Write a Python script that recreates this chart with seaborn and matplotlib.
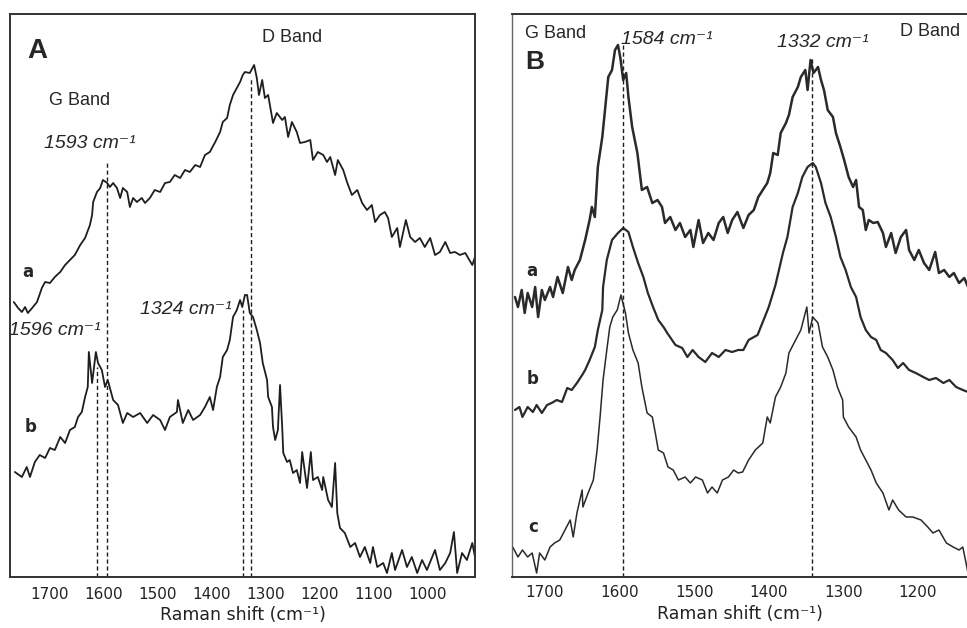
import matplotlib
matplotlib.use("Agg")
import matplotlib.pyplot as plt
import seaborn as sns
import pandas as pd
from matplotlib.ticker import MultipleLocator

# ---- panel A : Raman shift (cm-1) and intensity (a.u.) ----
a_top_x = [1767, 1759, 1752, 1746, 1741, 1733, 1724, 1715, 1709, 1700, 1691, 1681, 1672, 1663,
           1654, 1644, 1635, 1626, 1622, 1620, 1613, 1607, 1602, 1594, 1589, 1583, 1576, 1570,
           1565, 1557, 1552, 1546, 1539, 1530, 1524, 1515, 1506, 1496, 1487, 1478, 1469, 1459,
           1450, 1441, 1431, 1422, 1413, 1404, 1394, 1385, 1380, 1372, 1367, 1361, 1354, 1348,
           1343, 1339, 1330, 1322, 1317, 1313, 1307, 1302, 1296, 1287, 1280, 1270, 1265, 1259,
           1252, 1243, 1237, 1228, 1218, 1213, 1204, 1194, 1187, 1181, 1172, 1167, 1157, 1150,
           1141, 1131, 1122, 1113, 1104, 1098, 1089, 1080, 1074, 1067, 1057, 1052, 1041, 1033,
           1024, 1015, 1006, 996, 987, 978, 968, 959, 950, 941, 931, 918, 913]
a_top_y = [275, 269, 265, 270, 264, 269, 275, 289, 295, 294, 300, 305, 312, 317,
           322, 332, 339, 352, 362, 375, 385, 389, 397, 394, 390, 394, 389, 379,
           389, 385, 370, 379, 375, 379, 374, 379, 387, 385, 394, 395, 402, 399,
           407, 405, 412, 410, 422, 425, 435, 445, 455, 459, 472, 482, 489, 495,
           502, 505, 504, 512, 499, 482, 497, 479, 482, 454, 464, 457, 460, 440,
           455, 445, 434, 435, 437, 417, 425, 422, 415, 420, 402, 417, 407, 395,
           382, 387, 374, 367, 372, 355, 362, 365, 359, 340, 349, 330, 357, 340,
           335, 339, 330, 339, 322, 325, 335, 324, 325, 322, 324, 312, 320]

a_bot_x = [1765, 1752, 1743, 1737, 1728, 1719, 1709, 1700, 1691, 1681, 1672, 1663, 1654, 1648,
           1641, 1635, 1630, 1628, 1622, 1615, 1611, 1604, 1598, 1593, 1583, 1574, 1565, 1557,
           1546, 1533, 1520, 1509, 1496, 1487, 1478, 1465, 1463, 1454, 1444, 1435, 1422, 1413,
           1404, 1398, 1391, 1385, 1380, 1372, 1367, 1361, 1354, 1348, 1344, 1339, 1335, 1330,
           1324, 1317, 1311, 1306, 1298, 1296, 1289, 1287, 1283, 1278, 1274, 1270, 1268, 1261,
           1256, 1250, 1243, 1237, 1233, 1224, 1217, 1213, 1204, 1196, 1194, 1185, 1178, 1172,
           1168, 1163, 1154, 1144, 1135, 1126, 1117, 1107, 1102, 1094, 1083, 1076, 1067, 1061,
           1048, 1039, 1030, 1020, 1011, 1002, 987, 978, 968, 959, 952, 946, 937, 928, 918, 913]
a_bot_y = [105, 100, 110, 100, 115, 122, 119, 129, 127, 140, 134, 147, 150, 160,
           165, 180, 190, 225, 194, 225, 214, 207, 190, 197, 177, 172, 154, 164,
           160, 164, 154, 162, 157, 147, 160, 165, 177, 154, 167, 157, 162, 170,
           180, 167, 190, 200, 220, 227, 237, 260, 267, 277, 270, 282, 282, 264,
           260, 247, 234, 214, 197, 180, 170, 150, 137, 147, 192, 150, 124, 115,
           117, 104, 107, 94, 125, 89, 125, 97, 100, 87, 100, 77, 70, 114,
           64, 49, 44, 30, 34, 20, 30, 14, 30, 10, 14, 4, 24, 7,
           27, 10, 20, 4, 17, 7, 27, 7, 14, 24, 45, 4, 24, 17, 34, 20]

a_marks = [1613, 1594, 1343, 1328]
a_mark_top = [210, 415, 267, 500]

# ---- panel B ----
b1_x = [1740, 1736, 1731, 1727, 1723, 1717, 1713, 1709, 1704, 1700, 1693, 1689, 1683, 1676,
        1669, 1664, 1660, 1653, 1646, 1640, 1637, 1633, 1629, 1623, 1619, 1615, 1610, 1606,
        1602, 1599, 1595, 1591, 1588, 1583, 1576, 1570, 1563, 1556, 1549, 1543, 1539, 1532,
        1525, 1519, 1512, 1505, 1501, 1494, 1488, 1481, 1474, 1467, 1461, 1455, 1449, 1442,
        1434, 1427, 1420, 1414, 1408, 1402, 1398, 1394, 1388, 1384, 1377, 1373, 1368, 1361,
        1357, 1351, 1348, 1344, 1340, 1334, 1330, 1326, 1321, 1314, 1310, 1304, 1299, 1293,
        1287, 1283, 1279, 1274, 1270, 1266, 1260, 1254, 1247, 1243, 1236, 1230, 1223, 1216,
        1212, 1205, 1199, 1192, 1185, 1177, 1172, 1165, 1158, 1152, 1145, 1138, 1133]
b1_y = [280, 270, 287, 264, 284, 270, 290, 260, 287, 277, 290, 280, 300, 284,
        310, 297, 307, 317, 337, 357, 370, 360, 410, 440, 470, 500, 507, 527,
        532, 520, 497, 504, 480, 450, 424, 387, 390, 374, 377, 370, 354, 360,
        347, 354, 340, 347, 330, 357, 334, 344, 337, 354, 360, 344, 357, 365,
        349, 362, 367, 380, 387, 394, 404, 424, 422, 444, 454, 462, 480, 490,
        500, 507, 487, 517, 504, 510, 497, 487, 467, 460, 444, 430, 417, 400,
        390, 397, 370, 367, 347, 357, 354, 355, 344, 330, 344, 324, 340, 347,
        327, 317, 327, 314, 307, 325, 304, 307, 300, 304, 294, 299, 290]

b2_x = [1740, 1734, 1730, 1723, 1716, 1711, 1704, 1697, 1691, 1684, 1677, 1670, 1664, 1657,
        1650, 1646, 1640, 1633, 1629, 1623, 1622, 1617, 1610, 1602, 1595, 1588, 1582, 1575,
        1568, 1562, 1555, 1548, 1541, 1536, 1525, 1516, 1509, 1502, 1494, 1485, 1476, 1467,
        1458, 1449, 1441, 1434, 1427, 1415, 1408, 1400, 1391, 1381, 1375, 1368, 1361, 1355,
        1348, 1341, 1337, 1330, 1324, 1317, 1310, 1304, 1297, 1290, 1283, 1277, 1270, 1263,
        1256, 1250, 1243, 1234, 1227, 1220, 1212, 1203, 1193, 1185, 1176, 1166, 1158, 1149,
        1140, 1133]
b2_y = [167, 170, 160, 170, 165, 172, 164, 172, 174, 177, 175, 189, 187, 194,
        202, 207, 217, 230, 247, 267, 290, 317, 337, 344, 349, 345, 330, 314,
        300, 284, 270, 257, 250, 244, 232, 229, 220, 227, 220, 215, 224, 220,
        227, 225, 227, 227, 237, 242, 255, 270, 292, 324, 340, 370, 384, 400,
        410, 414, 410, 394, 374, 360, 340, 320, 307, 290, 280, 260, 247, 240,
        237, 227, 224, 217, 209, 214, 207, 204, 200, 197, 199, 194, 197, 190,
        187, 185]

b3_x = [1743, 1736, 1730, 1723, 1717, 1711, 1707, 1700, 1693, 1687, 1680, 1673, 1666, 1662,
        1657, 1650, 1649, 1642, 1635, 1630, 1626, 1622, 1617, 1613, 1609, 1603, 1598, 1592,
        1588, 1582, 1575, 1570, 1563, 1556, 1552, 1548, 1541, 1535, 1528, 1521, 1512, 1505,
        1498, 1489, 1482, 1476, 1469, 1462, 1454, 1447, 1441, 1435, 1427, 1418, 1408, 1402,
        1398, 1391, 1384, 1377, 1373, 1364, 1357, 1349, 1346, 1341, 1334, 1328, 1321, 1314,
        1308, 1301, 1300, 1293, 1283, 1277, 1270, 1263, 1256, 1247, 1239, 1234, 1226, 1216,
        1207, 1196, 1187, 1180, 1172, 1162, 1153, 1145, 1140, 1133]
b3_y = [30, 20, 27, 20, 24, 4, 24, 17, 30, 34, 37, 47, 57, 40,
        64, 87, 70, 84, 97, 127, 160, 197, 227, 250, 260, 267, 282, 264,
        244, 227, 214, 190, 164, 160, 144, 127, 124, 110, 107, 97, 100, 94,
        100, 97, 84, 90, 84, 97, 100, 107, 104, 105, 117, 127, 134, 160,
        154, 180, 190, 204, 224, 237, 247, 270, 244, 260, 254, 230, 220, 207,
        190, 177, 160, 150, 140, 127, 117, 107, 94, 84, 67, 77, 67, 60,
        60, 57, 50, 44, 47, 34, 30, 27, 30, 4]

b_marks = [1595, 1342]
b_mark_top = [534, 519]

sns.set_style("white")
plt.rcParams["font.family"] = ["DejaVu Sans"]
ann_font = ["Liberation Sans", "DejaVu Sans"]
ink = "#1e1e1e"

fig = plt.figure(figsize=(9.67, 6.28), dpi=100)
axA = fig.add_axes([0.01034, 0.08121, 0.48087, 0.89650])
axB = fig.add_axes([0.52947, 0.08121, 0.4716, 0.89650])

# panel A
sns.lineplot(x=a_top_x, y=a_top_y, ax=axA, color=ink, lw=1.3, estimator=None, sort=False)
sns.lineplot(x=a_bot_x, y=a_bot_y, ax=axA, color=ink, lw=1.3, estimator=None, sort=False)
axA.vlines(a_marks, 0, a_mark_top, colors=ink, linestyles=(0, (3, 2)), lw=1.0)
axA.set_xlim(1774, 913)
axA.set_ylim(0, 563)
axA.xaxis.set_major_locator(MultipleLocator(100))
axA.tick_params(axis="x", direction="out", length=3, labelsize=11, colors="#222", pad=4)
axA.set_yticks([])
for s in axA.spines.values():
    s.set_color("#333")
    s.set_linewidth(1.4)

axA.text(1724, 526, "A", fontsize=20, fontweight="bold", family=ann_font, ha="center", va="center")
axA.text(1252, 539, "D Band", fontsize=13, family=ann_font, ha="center", va="center")
axA.text(1646, 476, "G Band", fontsize=13, family=ann_font, ha="center", va="center")
axA.text(1626, 433, "1593 cm\u207b\u00b9", fontsize=14, style="italic", family=ann_font, ha="center", va="center")
axA.text(1448, 267, "1324 cm\u207b\u00b9", fontsize=14, style="italic", family=ann_font, ha="center", va="center")
axA.text(1776, 246, "1596 cm\u207b\u00b9", fontsize=14, style="italic", family=ann_font, ha="left", va="center")
axA.text(1741, 305, "a", fontsize=12, fontweight="bold", ha="center", va="center")
axA.text(1735, 150, "b", fontsize=12, fontweight="bold", ha="center", va="center")

# panel B
sns.lineplot(x=b1_x, y=b1_y, ax=axB, color="#2a2a2a", lw=1.8, estimator=None, sort=False)
sns.lineplot(x=b2_x, y=b2_y, ax=axB, color="#2a2a2a", lw=1.6, estimator=None, sort=False)
sns.lineplot(x=b3_x, y=b3_y, ax=axB, color="#2a2a2a", lw=1.1, estimator=None, sort=False)
axB.vlines(b_marks, 0, b_mark_top, colors=ink, linestyles=(0, (3, 2)), lw=1.0)
axB.set_xlim(1744, 1133)
axB.set_ylim(0, 563)
axB.xaxis.set_major_locator(MultipleLocator(100))
axB.xaxis.set_minor_locator(MultipleLocator(50))
axB.tick_params(axis="x", which="major", direction="in", length=4, labelsize=11, colors="#222", pad=6)
axB.tick_params(axis="x", which="minor", direction="in", length=3, colors="#222")
axB.set_yticks([])
axB.spines["right"].set_visible(False)
axB.spines["left"].set_color("#666")
axB.spines["left"].set_linewidth(1.0)
for side in ["top", "bottom"]:
    axB.spines[side].set_color("#333")
    axB.spines[side].set_linewidth(1.4)

axB.text(1685, 543, "G Band", fontsize=13, family=ann_font, ha="center", va="center")
axB.text(1713, 515, "B", fontsize=19, fontweight="bold", family=ann_font, ha="center", va="center")
axB.text(1536, 537, "1584 cm\u207b\u00b9", fontsize=14, style="italic", family=ann_font, ha="center", va="center")
axB.text(1328, 534, "1332 cm\u207b\u00b9", fontsize=14, style="italic", family=ann_font, ha="center", va="center")
axB.text(1184, 545, "D Band", fontsize=13, family=ann_font, ha="center", va="center")
axB.text(1717, 306, "a", fontsize=12, fontweight="bold", ha="center", va="center")
axB.text(1716, 198, "b", fontsize=12, fontweight="bold", ha="center", va="center")
axB.text(1715, 50, "c", fontsize=12, fontweight="bold", ha="center", va="center")

for ax in (axA, axB):
    ax.set_xlabel("Raman shift (cm\u207b\u00b9)", fontsize=12.5, color="#222", labelpad=3)
    ax.set_ylabel("")

fig.savefig("out.png", dpi=100)
